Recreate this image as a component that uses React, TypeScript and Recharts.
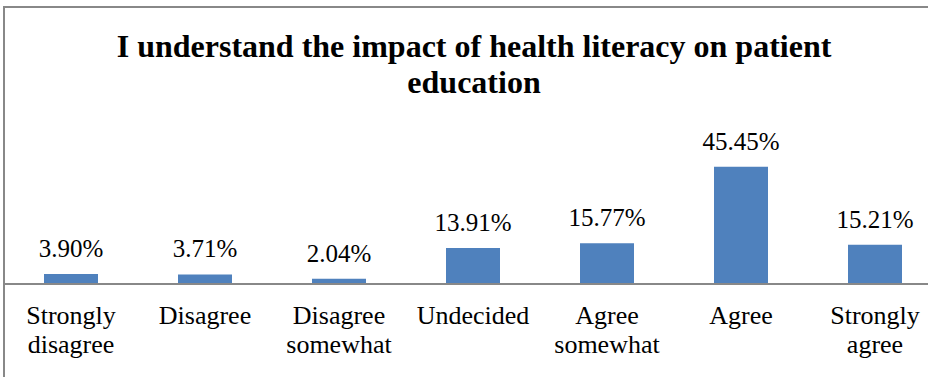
import React from 'react'
import { BarChart, Bar, XAxis, YAxis, LabelList } from 'recharts'

const categories = [
  'Strongly disagree',
  'Disagree',
  'Disagree somewhat',
  'Undecided',
  'Agree somewhat',
  'Agree',
  'Strongly agree',
]
const shares = [3.9, 3.71, 2.04, 13.91, 15.77, 45.45, 15.21]

const data = categories.map((name, i) => ({ name, value: shares[i] }))

const FONT = '"Liberation Serif", "Times New Roman", serif'
const labelStyle = { fontFamily: FONT, fontSize: 25, fill: '#000' }
const tickStyle = { fontFamily: FONT, fontSize: 26, fill: '#000' }

// splits "Strongly disagree" onto two lines the way the axis shows it
const CategoryTick = (props: any) => {
  const { x, y, payload } = props
  const words = String(payload.value).split(' ')
  return (
    <text x={x} y={y} textAnchor="middle" style={tickStyle}>
      {words.map((w, i) => (
        <tspan key={i} x={x} dy={i === 0 ? 40 : 29}>
          {w}
        </tspan>
      ))}
    </text>
  )
}

const ValueLabel = (props: any) => {
  const { x, y, width, value } = props
  return (
    <text x={x + width / 2} y={y - 17} textAnchor="middle" style={labelStyle}>
      {value.toFixed(2)}%
    </text>
  )
}

export default function App() {
  return (
    <div
      style={{
        position: 'fixed',
        left: 0,
        top: 0,
        width: 928,
        height: 377,
        overflow: 'hidden',
        background: '#fff',
        fontFamily: FONT,
      }}
    >
      <div
        style={{
          position: 'absolute',
          left: 3,
          top: 6,
          width: 1000,
          height: 1000,
          borderLeft: '2px solid #888',
          borderTop: '2px solid #888',
        }}
      />
      <div
        style={{
          position: 'absolute',
          left: 0,
          top: 28,
          width: 948,
          textAlign: 'center',
          fontWeight: 'bold',
          fontSize: 32,
          lineHeight: '36px',
          color: '#000',
        }}
      >
        I understand the impact of health literacy on patient
        <br />
        education
      </div>
      <div style={{ position: 'absolute', left: 0, top: 0 }}>
        <BarChart
          width={950}
          height={377}
          data={data}
          margin={{ top: 155, right: 8, bottom: 0, left: 4 }}
          barCategoryGap={0}
        >
          <YAxis hide domain={[0, 50]} />
          <XAxis
            dataKey="name"
            interval={0}
            height={93}
            tickLine={false}
            tickSize={0}
            tickMargin={0}
            axisLine={{ stroke: '#888', strokeWidth: 2 }}
            tick={<CategoryTick />}
          />
          <Bar dataKey="value" fill="#4F81BD" barSize={54} isAnimationActive={false}>
            <LabelList dataKey="value" content={<ValueLabel />} />
          </Bar>
        </BarChart>
      </div>
    </div>
  )
}
